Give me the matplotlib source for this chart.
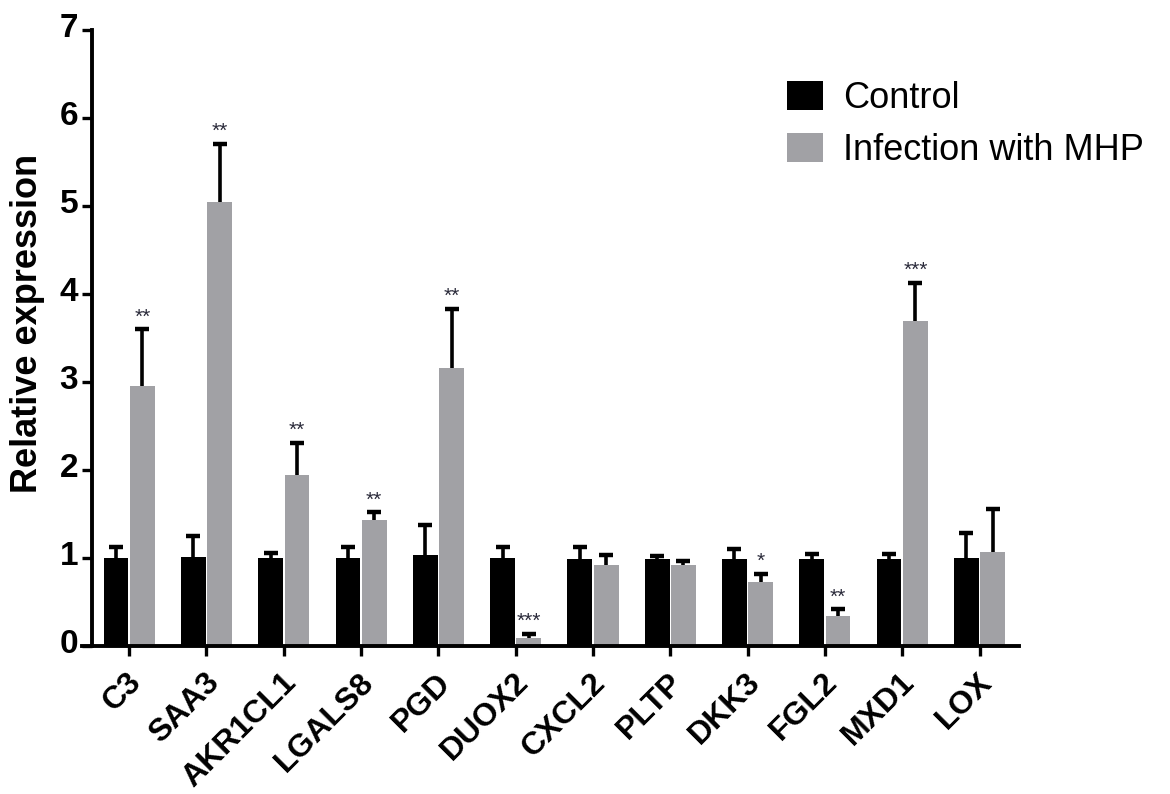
import numpy as np
import matplotlib
matplotlib.use("Agg")
import matplotlib.pyplot as plt
from matplotlib.transforms import ScaledTranslation

plt.rcParams['font.family'] = ['Liberation Sans', 'DejaVu Sans']

# data
genes = ['C3', 'SAA3', 'AKR1CL1', 'LGALS8', 'PGD', 'DUOX2',
         'CXCL2', 'PLTP', 'DKK3', 'FGL2', 'MXD1', 'LOX']
control = [1.00, 1.01, 1.00, 1.00, 1.03, 1.00, 0.99, 0.99, 0.99, 0.99, 0.99, 1.00]
control_err = [0.12, 0.24, 0.06, 0.13, 0.34, 0.12, 0.13, 0.03, 0.11, 0.05, 0.05, 0.28]
infected = [2.95, 5.05, 1.94, 1.43, 3.16, 0.09, 0.92, 0.92, 0.73, 0.34, 3.69, 1.07]
infected_err = [0.65, 0.66, 0.37, 0.09, 0.67, 0.05, 0.11, 0.05, 0.09, 0.08, 0.44, 0.49]
stars = ['**', '**', '**', '**', '**', '***', '', '', '*', '**', '***', '']

black = '#000000'
grey = '#a1a1a5'

fig = plt.figure(figsize=(11.7, 7.94), dpi=100)
ax = fig.add_axes([0.0701, 0.1864, 0.8008, 0.7758])

# spines first: moving a spine resets the ticks
for s in ['top', 'right']:
    ax.spines[s].set_visible(False)
ax.spines['left'].set_position(('data', -0.48))
ax.spines['left'].set_linewidth(2.8)
ax.spines['bottom'].set_linewidth(2.8)

x = np.arange(len(genes))
w = 0.32
off = 0.17

ax.bar(x - off, control, w, color=black, label='Control', zorder=2)
ax.bar(x + off, infected, w, color=grey, label='Infection with MHP', zorder=2)

# upper error bars only (SEM style, cap on top)
for xs, ys, es in [(x - off, control, control_err), (x + off, infected, infected_err)]:
    tops = np.array(ys) + np.array(es)
    ax.vlines(xs, ys, tops, color='black', linewidth=2.6, zorder=3)
    ax.plot(xs, tops, ls='none', marker='_', markersize=10, mew=3.2,
            color='black', zorder=3)

# significance marks
for i in range(len(genes)):
    if stars[i]:
        ax.text(x[i] + off, infected[i] + infected_err[i] + 0.03, stars[i],
                ha='center', va='bottom', fontsize=15, color='#2a2a3a')

ax.set_xlim(-0.61, 11.51)
ax.set_ylim(0, 7)
ax.tick_params(axis='both', width=2.4, length=7, direction='out')
ax.tick_params(axis='y', pad=3)
ax.tick_params(axis='x', pad=16)
ax.set_yticks(range(8), labels=[str(v) for v in range(8)],
              fontsize=24, fontweight='bold')
ax.set_xticks(x, labels=genes, rotation=45, ha='right', va='center',
              rotation_mode='anchor', fontsize=23, fontweight='bold')

shift_x = ScaledTranslation(8 / 100, 0, fig.dpi_scale_trans)
for lab in ax.get_xticklabels():
    lab.set_transform(lab.get_transform() + shift_x)
shift_y = ScaledTranslation(0, 5 / 100, fig.dpi_scale_trans)
for lab in ax.get_yticklabels():
    lab.set_transform(lab.get_transform() + shift_y)

ax.set_ylabel('Relative expression', fontsize=26, fontweight='bold')
ax.yaxis.set_label_coords(-0.04, 0.524)

ax.legend(loc='upper left', bbox_to_anchor=(787 / 1170, 1 - 81 / 794),
          bbox_transform=fig.transFigure, frameon=False, fontsize=26,
          handlelength=1.0, handleheight=0.86, handletextpad=0.55,
          labelspacing=0.48, borderpad=0, borderaxespad=0)

fig.savefig('out.png', dpi=100)
